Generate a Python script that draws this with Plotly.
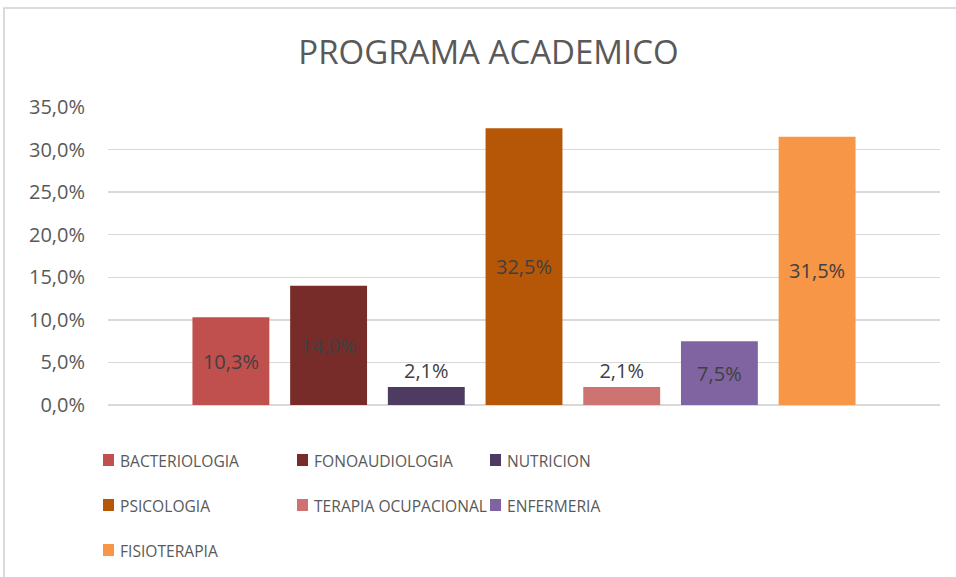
import plotly.graph_objects as go

programs = ["BACTERIOLOGIA", "FONOAUDIOLOGIA", "NUTRICION", "PSICOLOGIA",
            "TERAPIA OCUPACIONAL", "ENFERMERIA", "FISIOTERAPIA"]
shares = [0.103, 0.140, 0.021, 0.325, 0.021, 0.075, 0.315]
colors = ["#C0504D", "#772C2A", "#4D3B62", "#B65708", "#CD7371", "#8064A2", "#F79646"]
y_ticks = [0, 0.05, 0.10, 0.15, 0.20, 0.25, 0.30, 0.35]

FONT = "Open Sans, Liberation Sans, sans-serif"
GREY = "#595959"

fig = go.Figure()
for name, val, col in zip(programs, shares, colors):
    fig.add_trace(go.Bar(
        x=["PROGRAMA ACADEMICO"], y=[val], name=name,
        marker=dict(color=col, line=dict(width=0)),
        texttemplate="%{y:.1%}", textposition="auto",
        insidetextanchor="middle",
        textfont=dict(family=FONT, size=20, color="#404040"),
        insidetextfont=dict(family=FONT, size=20, color="#404040"),
        outsidetextfont=dict(family=FONT, size=20, color="#404040"),
        constraintext="none", cliponaxis=False,
        showlegend=False, hoverinfo="skip",
    ))

W, H = 956, 577
L, R, T, B = 108, 16, 107, 172
PW, PH = W - L - R, H - T - B


def px_x(px):
    return (px - L) / PW


def px_y(py):
    return (H - B - py) / PH


# legend laid out as an Excel-style 3-column grid below the plot
COL_LEFT = [103, 297, 490]
ROW_MID = [460, 505, 550]
SQ_W, SQ_H = 11, 12
shapes = [dict(type="rect", xref="paper", yref="paper",
               x0=px_x(4), x1=1.5, y0=-1.5, y1=px_y(8),
               line=dict(color="#D0D0D0", width=1.5), fillcolor="rgba(0,0,0,0)",
               layer="below")]
annotations = []
for i, (name, col) in enumerate(zip(programs, colors)):
    cx0 = COL_LEFT[i % 3]
    cy0 = ROW_MID[i // 3]
    shapes.append(dict(type="rect", xref="paper", yref="paper",
                       x0=px_x(cx0), x1=px_x(cx0 + SQ_W),
                       y0=px_y(cy0 + SQ_H / 2), y1=px_y(cy0 - SQ_H / 2),
                       line=dict(width=0), fillcolor=col))
    annotations.append(dict(text=name, xref="paper", yref="paper",
                            x=px_x(cx0 + 15), y=px_y(cy0 + 0.5),
                            xanchor="left", yanchor="middle", showarrow=False,
                            font=dict(family=FONT, size=15.6, color=GREY)))

fig.update_layout(
    width=W, height=H,
    margin=dict(l=L, r=R, t=T, b=B, pad=0),
    paper_bgcolor="white", plot_bgcolor="white",
    separators=",.",
    barmode="group", bargap=0.178, bargroupgap=0.213,
    title=dict(text="PROGRAMA ACADEMICO", xref="container", yref="container",
               x=488.5 / W, y=1 - 52 / H, xanchor="center", yanchor="middle",
               font=dict(family=FONT, size=33, color=GREY)),
    xaxis=dict(showticklabels=False, showgrid=False, zeroline=False,
               showline=False, range=[-0.5, 0.5], fixedrange=True),
    yaxis=dict(range=[0, 0.35], tickvals=y_ticks, tickformat=".1%",
               showgrid=True, gridcolor="#D9D9D9", gridwidth=1.3,
               zeroline=True, zerolinecolor="#D9D9D9", zerolinewidth=1.3,
               showline=False, ticks="", ticklabelstandoff=22,
               tickfont=dict(family=FONT, size=20, color=GREY), fixedrange=True),
    showlegend=False,
    shapes=shapes,
    annotations=annotations,
)

fig.write_html("out.html",
               config={"displayModeBar": False, "staticPlot": True},
               post_script="document.body.style.margin='0';"
                           "document.body.style.overflow='hidden';")
